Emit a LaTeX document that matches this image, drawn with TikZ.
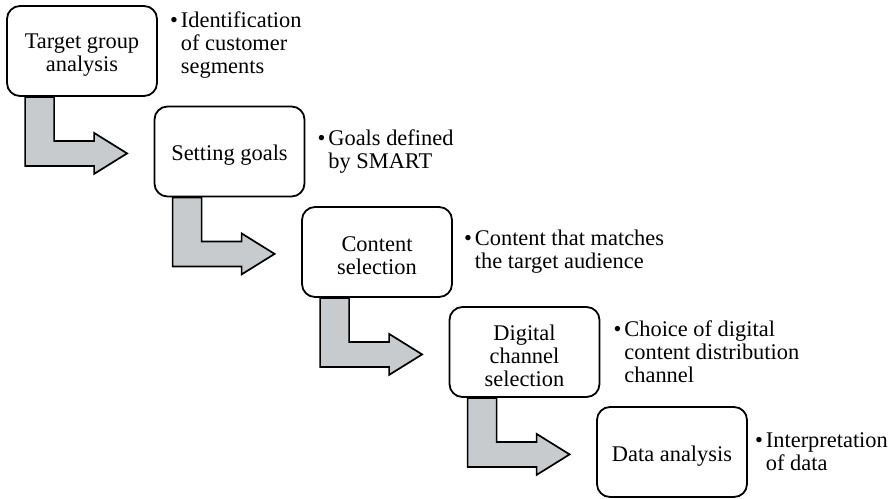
\documentclass[tikz,border=0pt]{standalone}
\usepackage{fontspec}
\setmainfont{Liberation Serif}
\usetikzlibrary{calc,backgrounds}
\definecolor{arrowgray}{RGB}{200,203,206}
\newcommand{\bl}{\textbullet\hspace{3pt}}
\newcommand{\ind}{\hphantom{\textbullet\hspace{3pt}}}
\newcommand{\dn}{\rule{0pt}{23pt}}
\tikzset{
  stepbox/.style={draw=black, line width=1.8pt, rounded corners=13pt, fill=white,
    minimum width=150pt, minimum height=90pt, inner sep=2pt, align=center,
    font=\fontsize{22.4}{23}\selectfont},
  note/.style={anchor=west, align=left, inner sep=0pt,
    font=\fontsize{22.4}{23}\selectfont},
  bentarrow/.style={draw=black, line width=1.7pt, fill=arrowgray, line join=miter}
}
\begin{document}
\begin{tikzpicture}[x=1pt,y=-1pt]
\useasboundingbox (0,0) rectangle (896,498);
\node[stepbox] (b1) at (82,51) {\dn Target group\\analysis};
\node[stepbox] (b2) at (229.5,151.5) {\dn Setting goals};
\node[stepbox] (b3) at (377,252) {\dn Content\\selection};
\node[stepbox] (b4) at (524.5,352) {\dn Digital\\channel\\selection};
\node[stepbox] (b5) at (672,452) {\dn Data analysis};

\node[note] (t1) at ($(b1.east)+(12,-6)$) {\bl Identification\\\ind of customer\\\ind segments};
\node[note] (t2) at ($(b2.east)+(12,0)$) {\bl Goals defined\\\ind by SMART};
\node[note] (t3) at ($(b3.east)+(11,0)$) {\bl Content that matches\\\ind the target audience};
\node[note] (t4) at ($(b4.east)+(13,0)$) {\bl Choice of digital\\\ind content distribution\\\ind channel};
\node[note] (t5) at ($(b5.east)+(7,0)$) {\bl Interpretation\\\ind of data};

\begin{scope}[on background layer]
\foreach \a in {b1,b2,b3,b4}{
  \draw[bentarrow] ($(\a.south west)+(19,0)$) -- ++(0,69) -- ++(69,0) -- ++(0,8)
    -- ++(33,-20.5) -- ++(-33,-20.5) -- ++(0,8) -- ++(-40,0) -- ++(0,-44) -- cycle;
}
\end{scope}
\end{tikzpicture}
\end{document}
